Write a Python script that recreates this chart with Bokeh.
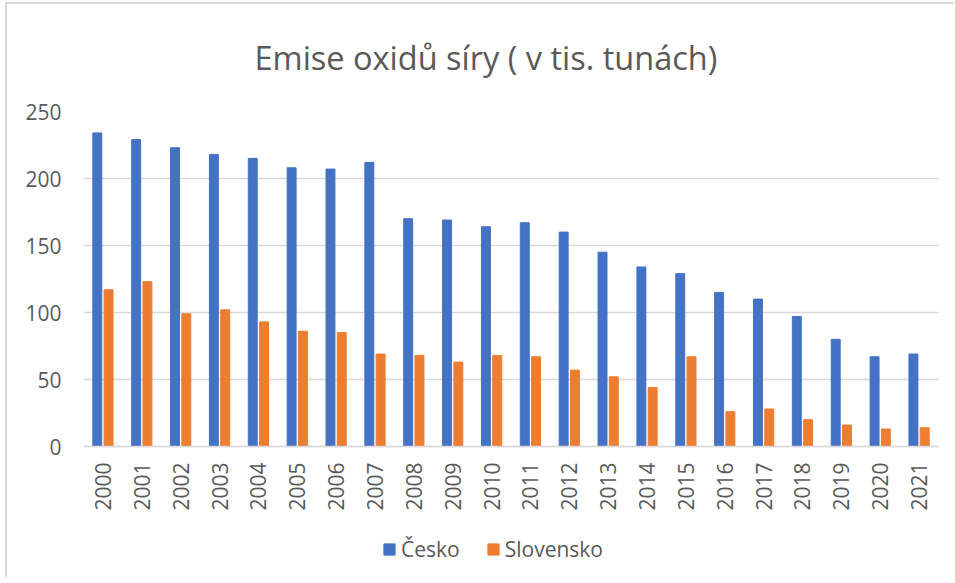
from bokeh.plotting import figure
from bokeh.models import ColumnDataSource, Range1d, Legend, LegendItem
from bokeh.transform import dodge
from bokeh.embed import file_html
from bokeh.resources import INLINE
import math

years = [str(y) for y in range(2000, 2022)]
cesko = [234, 229, 223, 218, 215, 208, 207, 212, 170, 169, 164, 167, 160, 145, 134, 129, 115, 110, 97, 80, 67, 69]
slovensko = [117, 123, 99, 102, 93, 86, 85, 69, 68, 63, 68, 67, 57, 52, 44, 67, 26, 28, 20, 16, 13, 14]
y_ticks = [0, 50, 100, 150, 200, 250]

FONT = "Open Sans"
TXT = "#595959"
GRID = "#d9d9d9"

src = ColumnDataSource(dict(year=years, cesko=cesko, slovensko=slovensko))

# frame extends below the zero line so the legend can sit inside it
p = figure(x_range=years, y_range=Range1d(-100, 250), frame_width=855, frame_height=469,
           output_backend="svg", toolbar_location=None,
           min_border_left=76, min_border_right=15, min_border_top=107, min_border_bottom=10)

p.title.text = "Emise oxidů síry ( v tis. tunách)"
p.title.text_font = FONT
p.title.text_font_size = "32.5px"
p.title.text_font_style = "normal"
p.title.text_color = TXT
p.title.align = "left"
p.title.vertical_align = "top"
p.title.offset = 171
p.title.standoff = 60

r1 = p.vbar(x=dodge("year", -0.145, range=p.x_range), top="cesko", width=0.23,
            source=src, fill_color="#4472C4", line_color="#4472C4")
r2 = p.vbar(x=dodge("year", 0.145, range=p.x_range), top="slovensko", width=0.23,
            source=src, fill_color="#ED7D31", line_color="#ED7D31")

p.outline_line_color = None
p.background_fill_color = "white"
p.border_fill_color = "white"
p.styles = {"margin-left": "5px", "margin-top": "2px",
            "border-left": "2px solid #d9d9d9", "border-top": "2px solid #d9d9d9",
            "max-height": "575px", "overflow": "hidden"}

p.xgrid.grid_line_color = None
p.ygrid.grid_line_color = GRID
p.ygrid.grid_line_width = 1.5
p.ygrid.ticker = y_ticks
p.yaxis.ticker = y_ticks
p.yaxis.axis_line_color = None
p.yaxis.major_tick_line_color = None
p.yaxis.minor_tick_line_color = None
p.yaxis.major_tick_out = 0
p.yaxis.major_tick_in = 0
p.yaxis.major_label_standoff = 22
p.yaxis.major_label_text_font = FONT
p.yaxis.major_label_text_font_size = "21px"
p.yaxis.major_label_text_color = TXT

p.xaxis.fixed_location = 0
p.xaxis.axis_line_color = GRID
p.xaxis.axis_line_width = 1.5
p.xaxis.major_tick_line_color = None
p.xaxis.minor_tick_line_color = None
p.xaxis.major_tick_out = 0
p.xaxis.major_tick_in = 0
p.xaxis.major_label_orientation = math.pi / 2
p.xaxis.major_label_standoff = 16
p.xaxis.major_label_text_font = FONT
p.xaxis.major_label_text_font_size = "21px"
p.xaxis.major_label_text_color = TXT

legend = Legend(items=[LegendItem(label="Česko", renderers=[r1]),
                       LegendItem(label="Slovensko", renderers=[r2])],
                orientation="horizontal", location=(299, 17),
                glyph_width=14, glyph_height=14, label_text_font=FONT,
                label_text_font_size="21px", label_text_color=TXT,
                border_line_color=None, background_fill_alpha=0,
                spacing=26, label_standoff=5, margin=0, padding=0)
p.add_layout(legend, "center")

open("out.html", "w").write(file_html(p, INLINE))
